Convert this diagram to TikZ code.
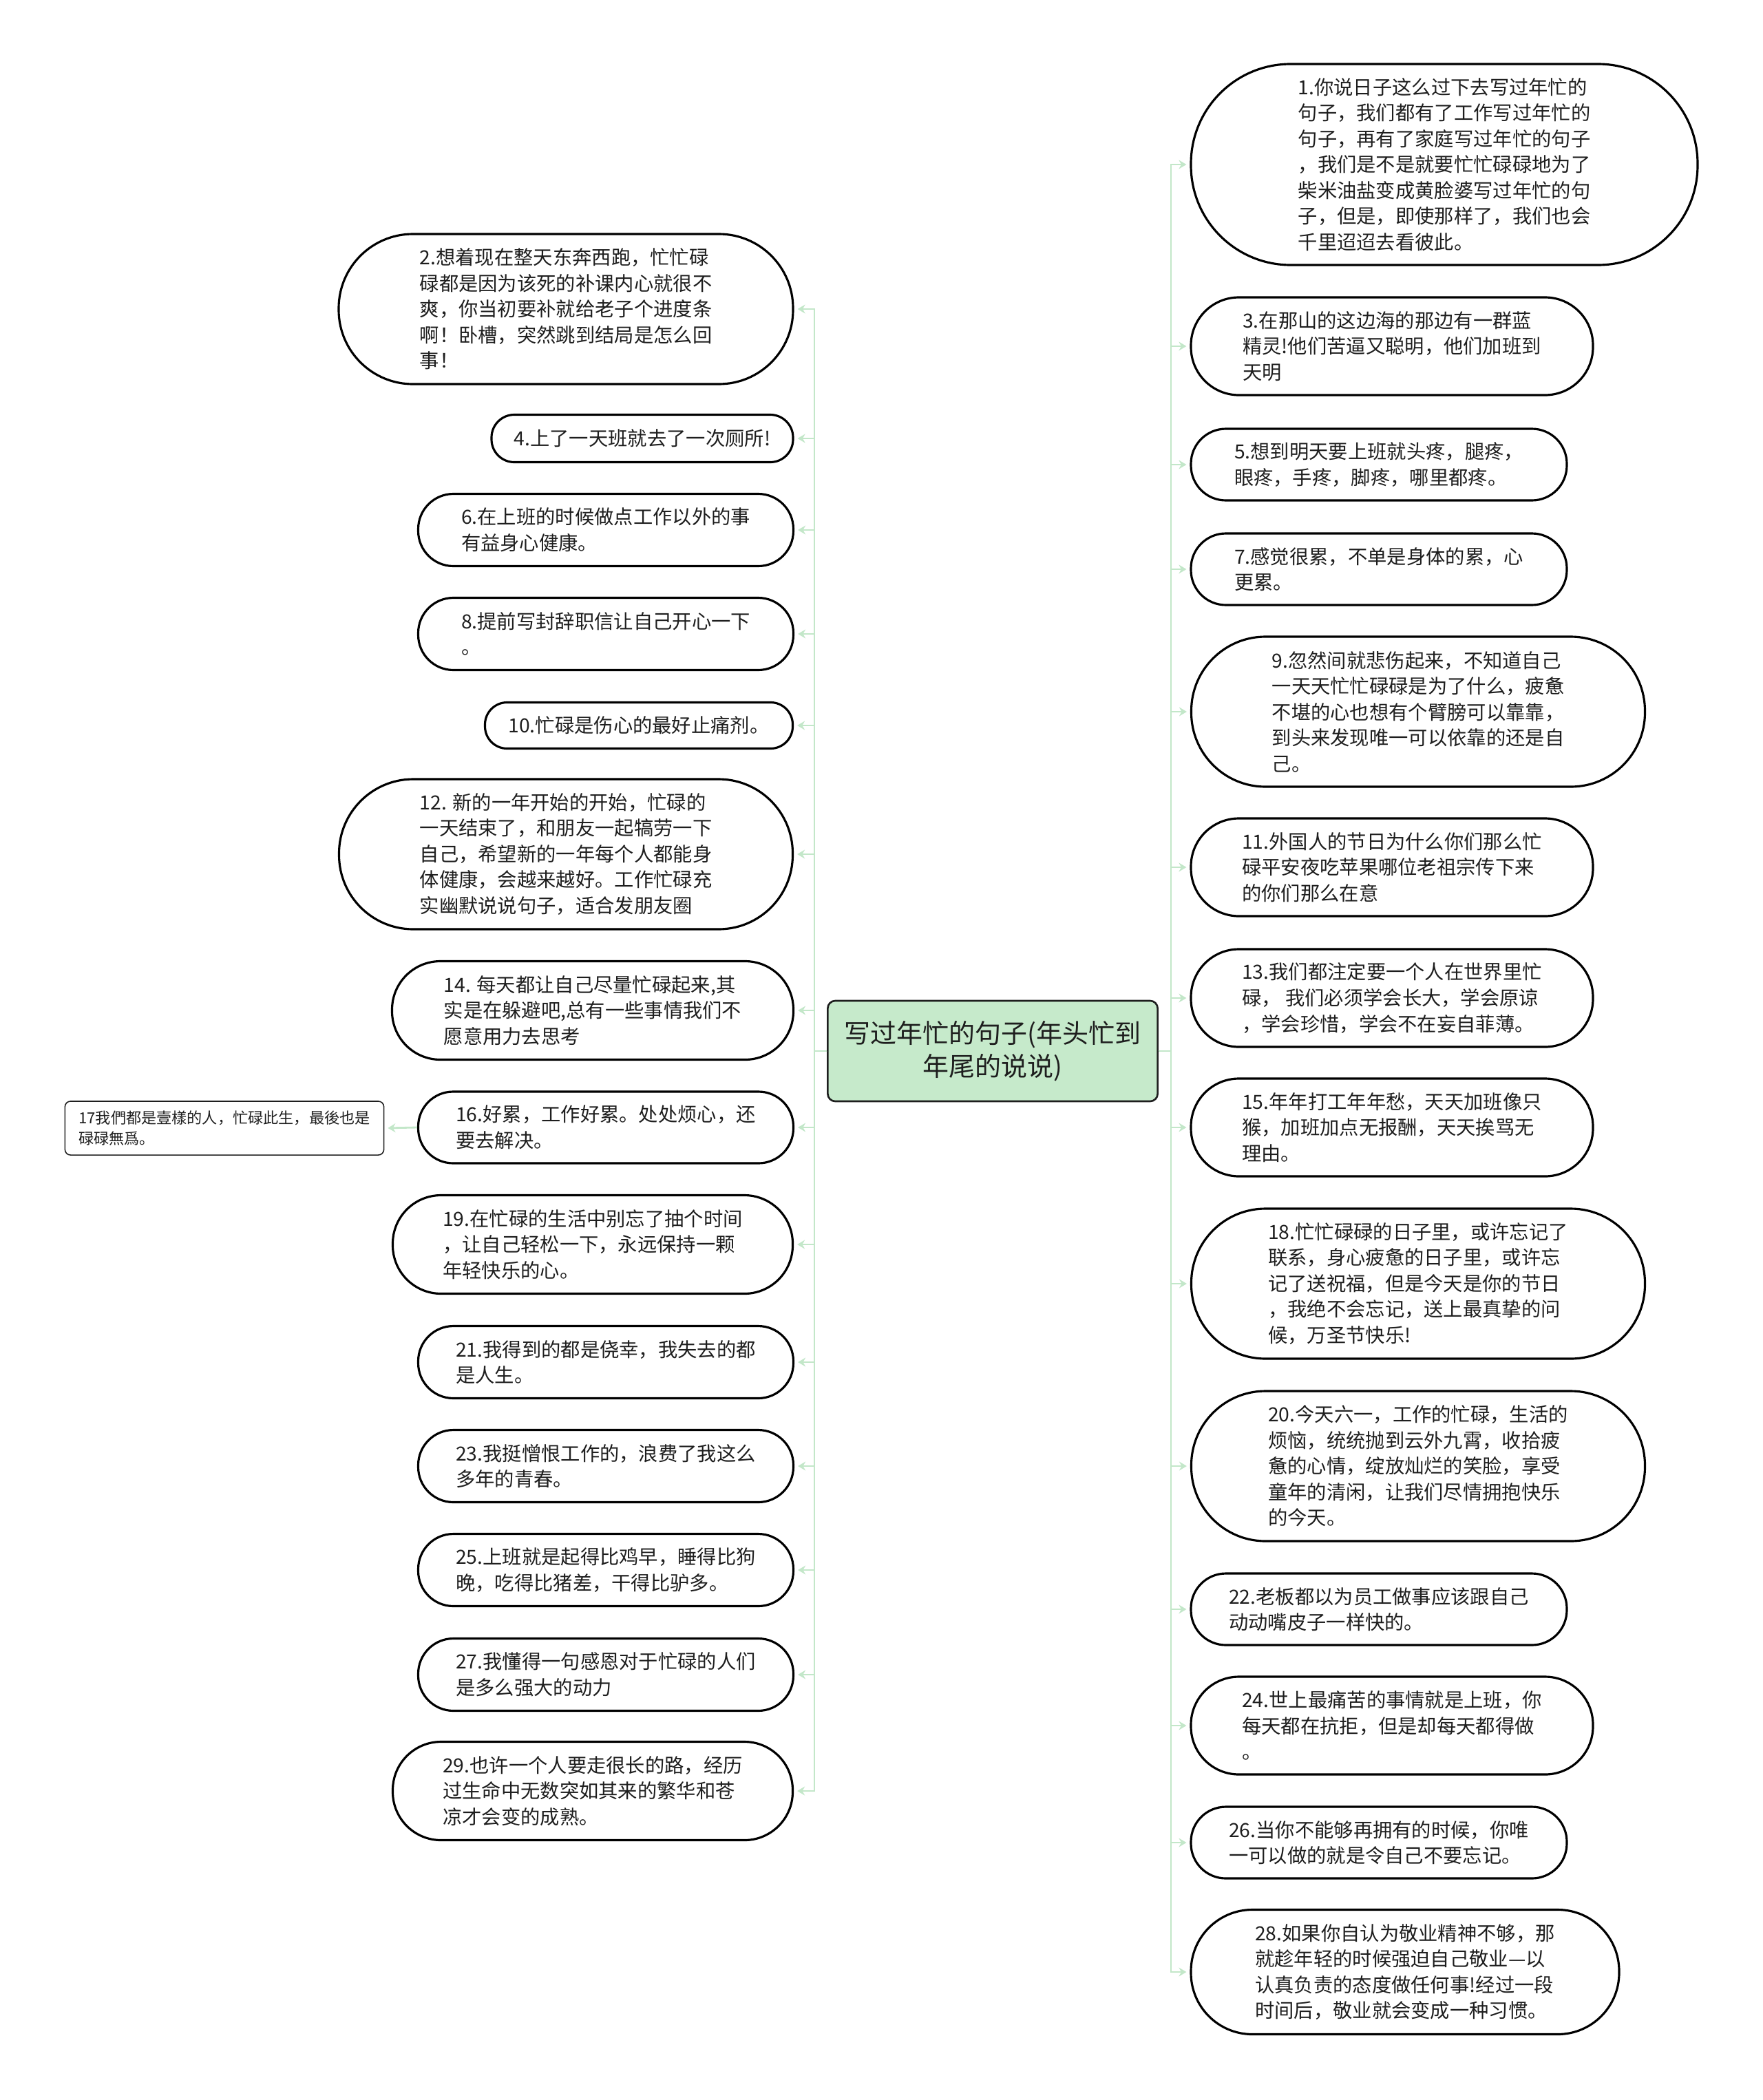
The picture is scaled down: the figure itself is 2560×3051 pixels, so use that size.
\documentclass[tikz,border=0pt]{standalone}
\usepackage{fontspec}
\usepackage{xcolor}
\usepackage{tikz}
\usetikzlibrary{arrows.meta}
\newfontfamily\cjk{Noto Sans CJK SC}
\definecolor{linkgreen}{HTML}{C3E7C9}
\definecolor{rootgreen}{HTML}{C6EACB}
\definecolor{inkgray}{HTML}{1E1E1E}
\newcommand\leaffont{\cjk\fontsize{8.05pt}{10.67pt}\selectfont}
\newcommand\rootfont{\cjk\fontsize{10.8pt}{13.8pt}\selectfont}
\newcommand\notefont{\cjk\fontsize{6.3pt}{8.5pt}\selectfont}
\tikzset{
  leaf/.style 2 args={draw=black,line width=0.9pt,text=inkgray,align=left,font=\leaffont,inner sep=0pt,
    minimum width=#1*0.01cm,minimum height=#2*0.01cm,rounded corners=#2*0.005cm-0.4pt},
  rootbox/.style={draw=inkgray,line width=0.75pt,fill=rootgreen,text=inkgray,rounded corners=0.11cm,
    align=center,font=\rootfont,inner sep=0pt,minimum width=4.79cm,minimum height=1.46cm},
  notebox/.style={draw=inkgray,line width=0.45pt,rounded corners=0.08cm,align=left,font=\notefont,
    text=inkgray,inner sep=0pt,minimum width=4.63cm,minimum height=0.78cm},
  link/.style={draw=linkgreen,line width=0.8pt,-{Stealth[length=1.1mm,width=1.3mm]},shorten >=0.5mm}
}
\begin{document}
\begin{tikzpicture}[x=0.01cm,y=-0.01cm]
\useasboundingbox (0,0) rectangle (2560,3051);
\node[rootbox] (root) at (1442,1527) {写过年忙的句子(年头忙到\\年尾的说说)};

\node[leaf={660}{218}] (n2) at (822,449) {2.想着现在整天东奔西跑，忙忙碌\\碌都是因为该死的补课内心就很不\\爽，你当初要补就给老子个进度条\\啊！卧槽，突然跳到结局是怎么回\\事！};
\node[leaf={438}{69}] (n4) at (933,637) {4.上了一天班就去了一次厕所!};
\node[leaf={545}{105}] (n6) at (880,770) {6.在上班的时候做点工作以外的事\\有益身心健康。};
\node[leaf={545}{105}] (n8) at (880,921) {8.提前写封辞职信让自己开心一下\\。};
\node[leaf={447}{67}] (n10) at (928,1054) {10.忙碌是伤心的最好止痛剂。};
\node[leaf={659}{218}] (n12) at (822,1241) {12. 新的一年开始的开始，忙碌的\\一天结束了，和朋友一起犒劳一下\\自己，希望新的一年每个人都能身\\体健康，会越来越好。工作忙碌充\\实幽默说说句子，适合发朋友圈};
\node[leaf={583}{143}] (n14) at (861,1468) {14. 每天都让自己尽量忙碌起来,其\\实是在躲避吧,总有一些事情我们不\\愿意用力去思考};
\node[leaf={545}{104}] (n16) at (880,1638) {16.好累，工作好累。处处烦心，还\\要去解决。};
\node[notebox] (n17) at (326,1639) {17我們都是壹樣的人，忙碌此生，最後也是\\碌碌無爲。};
\node[leaf={581}{143}] (n19) at (861,1808) {19.在忙碌的生活中别忘了抽个时间\\，让自己轻松一下，永远保持一颗\\年轻快乐的心。};
\node[leaf={545}{105}] (n21) at (880,1979) {21.我得到的都是侥幸，我失去的都\\是人生。};
\node[leaf={545}{105}] (n23) at (880,2130) {23.我挺憎恨工作的，浪费了我这么\\多年的青春。};
\node[leaf={545}{105}] (n25) at (880,2281) {25.上班就是起得比鸡早，睡得比狗\\晚，吃得比猪差，干得比驴多。};
\node[leaf={545}{105}] (n27) at (880,2433) {27.我懂得一句感恩对于忙碌的人们\\是多么强大的动力};
\node[leaf={581}{143}] (n29) at (861,2602) {29.也许一个人要走很长的路，经历\\过生命中无数突如其来的繁华和苍\\凉才会变的成熟。};

\node[leaf={736}{292}] (n1) at (2098,239) {1.你说日子这么过下去写过年忙的\\句子，我们都有了工作写过年忙的\\句子，再有了家庭写过年忙的句子\\，我们是不是就要忙忙碌碌地为了\\柴米油盐变成黄脸婆写过年忙的句\\子，但是，即使那样了，我们也会\\千里迢迢去看彼此。};
\node[leaf={584}{142}] (n3) at (2022,503) {3.在那山的这边海的那边有一群蓝\\精灵!他们苦逼又聪明，他们加班到\\天明};
\node[leaf={546}{104}] (n5) at (2003,675) {5.想到明天要上班就头疼，腿疼，\\眼疼，手疼，脚疼，哪里都疼。};
\node[leaf={546}{104}] (n7) at (2003,827) {7.感觉很累，不单是身体的累，心\\更累。};
\node[leaf={659}{218}] (n9) at (2060,1034) {9.忽然间就悲伤起来，不知道自己\\一天天忙忙碌碌是为了什么，疲惫\\不堪的心也想有个臂膀可以靠靠，\\到头来发现唯一可以依靠的还是自\\己。};
\node[leaf={584}{142}] (n11) at (2022,1260) {11.外国人的节日为什么你们那么忙\\碌平安夜吃苹果哪位老祖宗传下来\\的你们那么在意};
\node[leaf={584}{142}] (n13) at (2022,1450) {13.我们都注定要一个人在世界里忙\\碌， 我们必须学会长大，学会原谅\\，学会珍惜，学会不在妄自菲薄。};
\node[leaf={584}{142}] (n15) at (2022,1638) {15.年年打工年年愁，天天加班像只\\猴，加班加点无报酬，天天挨骂无\\理由。};
\node[leaf={659}{218}] (n18) at (2060,1865) {18.忙忙碌碌的日子里，或许忘记了\\联系，身心疲惫的日子里，或许忘\\记了送祝福，但是今天是你的节日\\，我绝不会忘记，送上最真挚的问\\候，万圣节快乐!};
\node[leaf={659}{218}] (n20) at (2060,2130) {20.今天六一，工作的忙碌，生活的\\烦恼，统统抛到云外九霄，收拾疲\\惫的心情，绽放灿烂的笑脸，享受\\童年的清闲，让我们尽情拥抱快乐\\的今天。};
\node[leaf={546}{104}] (n22) at (2003,2338) {22.老板都以为员工做事应该跟自己\\动动嘴皮子一样快的。};
\node[leaf={584}{142}] (n24) at (2022,2507) {24.世上最痛苦的事情就是上班，你\\每天都在抗拒，但是却每天都得做\\。};
\node[leaf={546}{104}] (n26) at (2003,2677) {26.当你不能够再拥有的时候，你唯\\一可以做的就是令自己不要忘记。};
\node[leaf={622}{181}] (n28) at (2041,2865) {28.如果你自认为敬业精神不够，那\\就趁年轻的时候强迫自己敬业—以\\认真负责的态度做任何事!经过一段\\时间后，敬业就会变成一种习惯。};

\draw[link] (root.west) -- ++(-18,0) |- (n2.east);
\draw[link] (root.west) -- ++(-18,0) |- (n4.east);
\draw[link] (root.west) -- ++(-18,0) |- (n6.east);
\draw[link] (root.west) -- ++(-18,0) |- (n8.east);
\draw[link] (root.west) -- ++(-18,0) |- (n10.east);
\draw[link] (root.west) -- ++(-18,0) |- (n12.east);
\draw[link] (root.west) -- ++(-18,0) |- (n14.east);
\draw[link] (root.west) -- ++(-18,0) |- (n16.east);
\draw[link] (root.west) -- ++(-18,0) |- (n19.east);
\draw[link] (root.west) -- ++(-18,0) |- (n21.east);
\draw[link] (root.west) -- ++(-18,0) |- (n23.east);
\draw[link] (root.west) -- ++(-18,0) |- (n25.east);
\draw[link] (root.west) -- ++(-18,0) |- (n27.east);
\draw[link] (root.west) -- ++(-18,0) |- (n29.east);
\draw[link] (n16.west) -- (n17.east);

\draw[link] (root.east) -- ++(18,0) |- (n1.west);
\draw[link] (root.east) -- ++(18,0) |- (n3.west);
\draw[link] (root.east) -- ++(18,0) |- (n5.west);
\draw[link] (root.east) -- ++(18,0) |- (n7.west);
\draw[link] (root.east) -- ++(18,0) |- (n9.west);
\draw[link] (root.east) -- ++(18,0) |- (n11.west);
\draw[link] (root.east) -- ++(18,0) |- (n13.west);
\draw[link] (root.east) -- ++(18,0) |- (n15.west);
\draw[link] (root.east) -- ++(18,0) |- (n18.west);
\draw[link] (root.east) -- ++(18,0) |- (n20.west);
\draw[link] (root.east) -- ++(18,0) |- (n22.west);
\draw[link] (root.east) -- ++(18,0) |- (n24.west);
\draw[link] (root.east) -- ++(18,0) |- (n26.west);
\draw[link] (root.east) -- ++(18,0) |- (n28.west);
\end{tikzpicture}
\end{document}
